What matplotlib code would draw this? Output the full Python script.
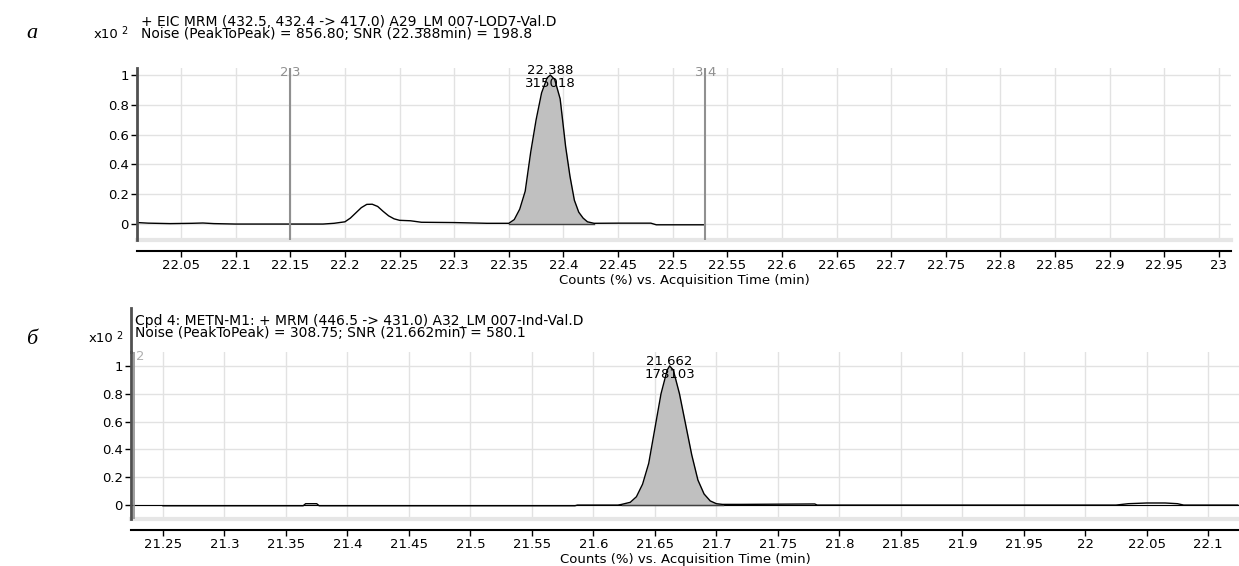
import numpy as np
import matplotlib
matplotlib.use("Agg")
import matplotlib.pyplot as plt
from matplotlib.lines import Line2D

plt.rcParams['font.family'] = ['DejaVu Sans']

# ---- panel a: EIC MRM trace (time in min, counts x10^2) ----
timeA = [22.010, 22.020, 22.040, 22.060, 22.070, 22.080, 22.100, 22.150, 22.180,
         22.190, 22.200, 22.205, 22.210, 22.215, 22.220, 22.225, 22.230, 22.235,
         22.240, 22.245, 22.250, 22.260, 22.270, 22.300, 22.330, 22.350, 22.355,
         22.360, 22.365, 22.370, 22.375, 22.380, 22.385, 22.388, 22.392, 22.397,
         22.402, 22.406, 22.410, 22.414, 22.418, 22.422, 22.428, 22.450, 22.480,
         22.485, 22.528]
countsA = [0.010, 0.006, 0.003, 0.005, 0.007, 0.003, 0.000, 0.000, 0.000,
           0.005, 0.015, 0.040, 0.075, 0.110, 0.132, 0.133, 0.118, 0.085,
           0.055, 0.035, 0.025, 0.022, 0.012, 0.010, 0.005, 0.005, 0.030,
           0.100, 0.220, 0.480, 0.700, 0.880, 0.980, 1.000, 0.970, 0.840,
           0.520, 0.320, 0.160, 0.080, 0.040, 0.015, 0.005, 0.006, 0.006,
           -0.005, -0.005]
peakA = (22.350, 22.428)
labelA = ("22.388", "315018")
apexA = 22.388
markersA = [(22.15, "2", "3"), (22.530, "3", "4")]
ticksA = [22.05, 22.1, 22.15, 22.2, 22.25, 22.3, 22.35, 22.4, 22.45, 22.5, 22.55,
          22.6, 22.65, 22.7, 22.75, 22.8, 22.85, 22.9, 22.95, 23]
titleA = ["+ EIC MRM (432.5, 432.4 -> 417.0) A29_LM 007-LOD7-Val.D",
          "Noise (PeakToPeak) = 856.80; SNR (22.388min) = 198.8"]

# ---- panel b: Cpd 4 METN-M1 trace ----
timeB = [21.250, 21.300, 21.364, 21.366, 21.375, 21.377, 21.450, 21.585, 21.587,
         21.620, 21.623, 21.630, 21.635, 21.640, 21.645, 21.650, 21.655, 21.660,
         21.662, 21.665, 21.670, 21.675, 21.680, 21.685, 21.690, 21.695, 21.700,
         21.705, 21.720, 21.780, 21.782, 21.900, 22.025, 22.035, 22.050, 22.065,
         22.075, 22.080, 22.124]
countsB = [-0.005, -0.005, -0.005, 0.010, 0.010, -0.005, -0.005, -0.005, 0.000,
           0.000, 0.005, 0.020, 0.060, 0.150, 0.300, 0.550, 0.800, 0.970,
           1.000, 0.970, 0.800, 0.580, 0.360, 0.180, 0.080, 0.030, 0.010,
           0.005, 0.005, 0.008, 0.000, 0.000, 0.000, 0.010, 0.015, 0.015,
           0.010, 0.000, 0.000]
peakB = (21.623, 21.705)
labelB = ("21.662", "178103")
apexB = 21.662
ticksB = [21.25, 21.3, 21.35, 21.4, 21.45, 21.5, 21.55, 21.6, 21.65, 21.7, 21.75,
          21.8, 21.85, 21.9, 21.95, 22, 22.05, 22.1]
titleB = ["Cpd 4: METN-M1: + MRM (446.5 -> 431.0) A32_LM 007-Ind-Val.D",
          "Noise (PeakToPeak) = 308.75; SNR (21.662min) = 580.1"]

yticks = [0, 0.2, 0.4, 0.6, 0.8, 1]
xlabel = "Counts (%) vs. Acquisition Time (min)"

FS = 9.5      # tick / label text
FT = 10       # title lines

W, H = 1239, 566
fig = plt.figure(figsize=(W / 100, H / 100), dpi=100)


def px_axes(left, top, right, bottom):
    return fig.add_axes([left / W, 1 - bottom / H, (right - left) / W, (bottom - top) / H])


def fx(x):
    return x / W


def fy(y):
    return 1 - y / H


def style(ax, xlim, ylim, xticks):
    ax.set_xlim(*xlim)
    ax.set_ylim(*ylim)
    ax.set_xticks(xticks)
    ax.set_xticklabels(['%g' % t for t in xticks])
    ax.set_yticks(yticks)
    ax.set_yticklabels(['%g' % t for t in yticks])
    ax.grid(True, color='#e2e2e2', lw=1)
    ax.set_axisbelow(True)
    for s in ['top', 'right']:
        ax.spines[s].set_visible(False)
    ax.spines['left'].set_color('#505050')
    ax.spines['left'].set_linewidth(2)
    ax.spines['bottom'].set_position(('outward', 8))
    ax.spines['bottom'].set_linewidth(1.5)
    ax.axhline(ylim[0], color='#e6e6e6', lw=3, clip_on=False)
    ax.tick_params(axis='both', labelsize=FS, length=4, width=1, direction='out', pad=2)
    ax.set_xlabel(xlabel, fontsize=FS, labelpad=1)


def draw_trace(ax, t, c, peak, apex, labels):
    t = np.array(t)
    c = np.array(c)
    m = (t >= peak[0]) & (t <= peak[1])
    ax.fill_between(t[m], 0, c[m], color='#c0c0c0', lw=0)
    ax.plot([peak[0], peak[1]], [0, 0], color='#404040', lw=1)
    ax.plot(t, c, color='black', lw=1)
    ax.text(apex, 0.985, labels[0] + "\n" + labels[1], ha='center', va='center',
            fontsize=FS, linespacing=0.95)


# panel a
axA = px_axes(137, 68, 1231, 240)
style(axA, (22.0097, 23.011), (-0.107, 1.047), ticksA)
draw_trace(axA, timeA, countsA, peakA, apexA, labelA)
for xm, l, r in markersA:
    axA.axvline(xm, color='#909090', lw=1.5)
    axA.text(xm - 0.002, 1.02, l, ha='right', va='center', fontsize=FS, color='#909090')
    axA.text(xm + 0.002, 1.02, r, ha='left', va='center', fontsize=FS, color='#909090')
fig.text(fx(141), fy(28), "\n".join(titleA), fontsize=FT, va='center', linespacing=0.88)
fig.text(fx(118), fy(34), "x10", fontsize=FS, va='center', ha='right')
fig.text(fx(121), fy(31), "2", fontsize=7, va='center', ha='left')
fig.text(fx(32), fy(33), "a", fontsize=16, va='center', ha='center',
         family='Liberation Serif', style='italic')

# panel b
axB = px_axes(131, 352, 1239, 519)
style(axB, (21.224, 22.125), (-0.10, 1.10), ticksB)
axB.axhline(0, color='black', lw=0.8)
draw_trace(axB, timeB, countsB, peakB, apexB, labelB)
axB.axvline(21.2265, color='#909090', lw=1.2)
axB.text(21.228, 1.07, "2", ha='left', va='center', fontsize=FS, color='#b0b0b0')
fig.add_artist(Line2D([fx(131), fx(131)], [fy(308), fy(352)], color='#505050', lw=2))
fig.text(fx(135), fy(327), "\n".join(titleB), fontsize=FT, va='center', linespacing=0.88)
fig.text(fx(113), fy(339), "x10", fontsize=FS, va='center', ha='right')
fig.text(fx(116), fy(336), "2", fontsize=7, va='center', ha='left')
fig.text(fx(32), fy(340), "б", fontsize=16, va='center', ha='center',
         family='Liberation Serif', style='italic')

fig.savefig("out.png", dpi=100)
